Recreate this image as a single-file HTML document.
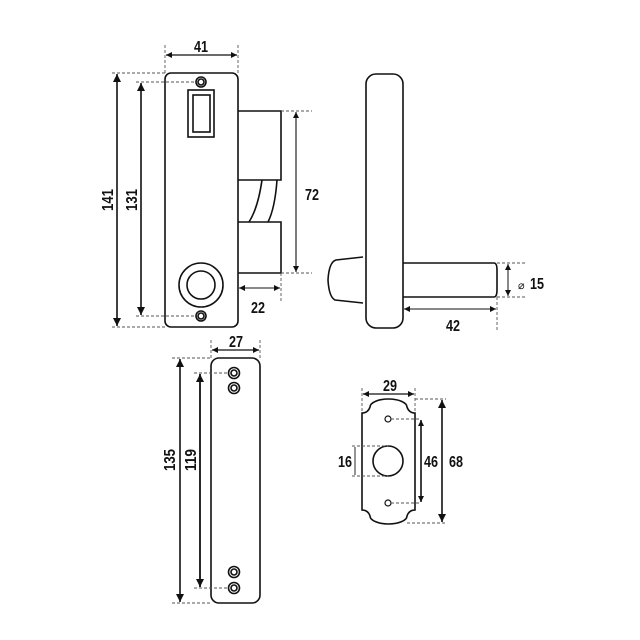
<!DOCTYPE html>
<html><head><meta charset="utf-8"><style>
html,body{margin:0;padding:0;background:#fff}
svg{display:block}
text{font-family:"Liberation Sans",sans-serif;font-weight:bold;font-size:16px;fill:#111}
</style></head><body>
<svg width="640" height="640" viewBox="0 0 640 640" xmlns="http://www.w3.org/2000/svg">
<defs>
<marker id="a" viewBox="0 0 10 10" refX="10" refY="5" markerWidth="8" markerHeight="8" markerUnits="userSpaceOnUse" orient="auto-start-reverse"><path d="M0,0L10,5L0,10Z" fill="#111"/></marker>
<marker id="b" viewBox="0 0 10 10" refX="10" refY="5" markerWidth="6" markerHeight="6" markerUnits="userSpaceOnUse" orient="auto-start-reverse"><path d="M0,0L10,5L0,10Z" fill="#111"/></marker>
</defs>
<g fill="none" stroke="#111" stroke-width="1.6">
<rect x="165" y="73" width="73" height="254" rx="6"/>
<circle cx="201" cy="82" r="5"/><circle cx="201" cy="82" r="3"/>
<circle cx="201" cy="316" r="5"/><circle cx="201" cy="316" r="3"/>
<rect x="188" y="90" width="26" height="47"/>
<rect x="193" y="95" width="17" height="37"/>
<circle cx="201" cy="285" r="22"/><circle cx="201" cy="285" r="14"/>
<path d="M238,111H281V180H238"/>
<path d="M238,222H281V273H238"/>
<path d="M262,180Q258,208 249,222"/>
<path d="M277,180Q275,208 268,222"/>
<rect x="366" y="74" width="37" height="254" rx="10"/>
<path d="M363,257L336,260Q329,262 328,280Q329,297 335,300L363,303"/>
<path d="M403,263H494Q497,263 497,270V290Q497,297 494,297H403"/>
<rect x="211" y="358" width="49" height="245" rx="8"/>
<circle cx="234" cy="373" r="5.5"/><circle cx="234" cy="373" r="3"/>
<circle cx="234" cy="388" r="5.5"/><circle cx="234" cy="388" r="3"/>
<circle cx="234" cy="572" r="5.5"/><circle cx="234" cy="572" r="3"/>
<circle cx="234" cy="588" r="5.5"/><circle cx="234" cy="588" r="3"/>
<path d="M362,413Q368,413 370,407A18.5,8 0 0 1 407,407Q409,413 415,413L415,510Q409,510 407,516A18.5,8 0 0 1 370,516Q368,510 362,510Z"/>
<circle cx="388" cy="419" r="3" stroke-width="1.2"/>
<circle cx="388" cy="503" r="3" stroke-width="1.2"/>
<circle cx="388" cy="461" r="15"/>
</g>
<g fill="none" stroke="#555" stroke-width="0.9" stroke-dasharray="3,2">
<path d="M165,45V73M238,45V73"/>
<path d="M112,73H165M112,327H165"/>
<path d="M136,82H196M136,316H196"/>
<path d="M281,111H312M281,273H312"/>
<path d="M281,273V302"/>
<path d="M497,263H525M497,297H525M497,297V330"/>
<path d="M211,340V358M260,340V358"/>
<path d="M172,358H211M172,603H211"/>
<path d="M194,373H229M194,588H229"/>
<path d="M362,388V413M415,388V413"/>
<path d="M415,399H446M407,523H446"/>
<path d="M391,419H420M391,503H420"/>
<path d="M352,446H388M352,476H388"/>
</g>
<g fill="none" stroke="#111">
<path d="M166,55H237" stroke-width="1.3" marker-start="url(#b)" marker-end="url(#b)"/>
<path d="M117,74V326" stroke-width="1.6" marker-start="url(#a)" marker-end="url(#a)"/>
<path d="M141,83V315" stroke-width="1.6" marker-start="url(#a)" marker-end="url(#a)"/>
<path d="M296,112V272" stroke-width="1.1" marker-start="url(#b)" marker-end="url(#b)"/>
<path d="M239,288H280" stroke-width="0.9" marker-start="url(#b)" marker-end="url(#b)"/>
<path d="M508,264V296" stroke-width="1" marker-start="url(#b)" marker-end="url(#b)"/>
<path d="M404,309H496" stroke-width="1" marker-start="url(#b)" marker-end="url(#b)"/>
<path d="M212,350H259" stroke-width="1.2" marker-start="url(#b)" marker-end="url(#b)"/>
<path d="M180,359V602" stroke-width="1.6" marker-start="url(#a)" marker-end="url(#a)"/>
<path d="M200,374V587" stroke-width="1.8" marker-start="url(#a)" marker-end="url(#a)"/>
<path d="M363,394H414" stroke-width="1.2" marker-start="url(#b)" marker-end="url(#b)"/>
<path d="M442,400V522" stroke-width="1.6" marker-start="url(#a)" marker-end="url(#a)"/>
<path d="M421,420V502" stroke-width="1.6" marker-start="url(#b)" marker-end="url(#b)"/>
<path d="M355,447V475" stroke-width="0.9"/>
</g>
<text x="194" y="52" textLength="14" lengthAdjust="spacingAndGlyphs">41</text>
<text transform="translate(113,211) rotate(-90)" textLength="22" lengthAdjust="spacingAndGlyphs">141</text>
<text transform="translate(137,211) rotate(-90)" textLength="22" lengthAdjust="spacingAndGlyphs">131</text>
<text x="305" y="200" textLength="14" lengthAdjust="spacingAndGlyphs">72</text>
<text x="251" y="313" textLength="14" lengthAdjust="spacingAndGlyphs">22</text>
<text x="518" y="289" style="font-size:11px;font-weight:normal">⌀</text>
<text x="530" y="289" textLength="14" lengthAdjust="spacingAndGlyphs">15</text>
<text x="446" y="331" textLength="14" lengthAdjust="spacingAndGlyphs">42</text>
<text x="229" y="347" textLength="14" lengthAdjust="spacingAndGlyphs">27</text>
<text transform="translate(175,471) rotate(-90)" textLength="22" lengthAdjust="spacingAndGlyphs">135</text>
<text transform="translate(196,471) rotate(-90)" textLength="22" lengthAdjust="spacingAndGlyphs">119</text>
<text x="383" y="391" textLength="14" lengthAdjust="spacingAndGlyphs">29</text>
<text x="338" y="467" textLength="14" lengthAdjust="spacingAndGlyphs">16</text>
<text x="424" y="467" textLength="14" lengthAdjust="spacingAndGlyphs">46</text>
<text x="449" y="467" textLength="14" lengthAdjust="spacingAndGlyphs">68</text>
</svg>
</body></html>
